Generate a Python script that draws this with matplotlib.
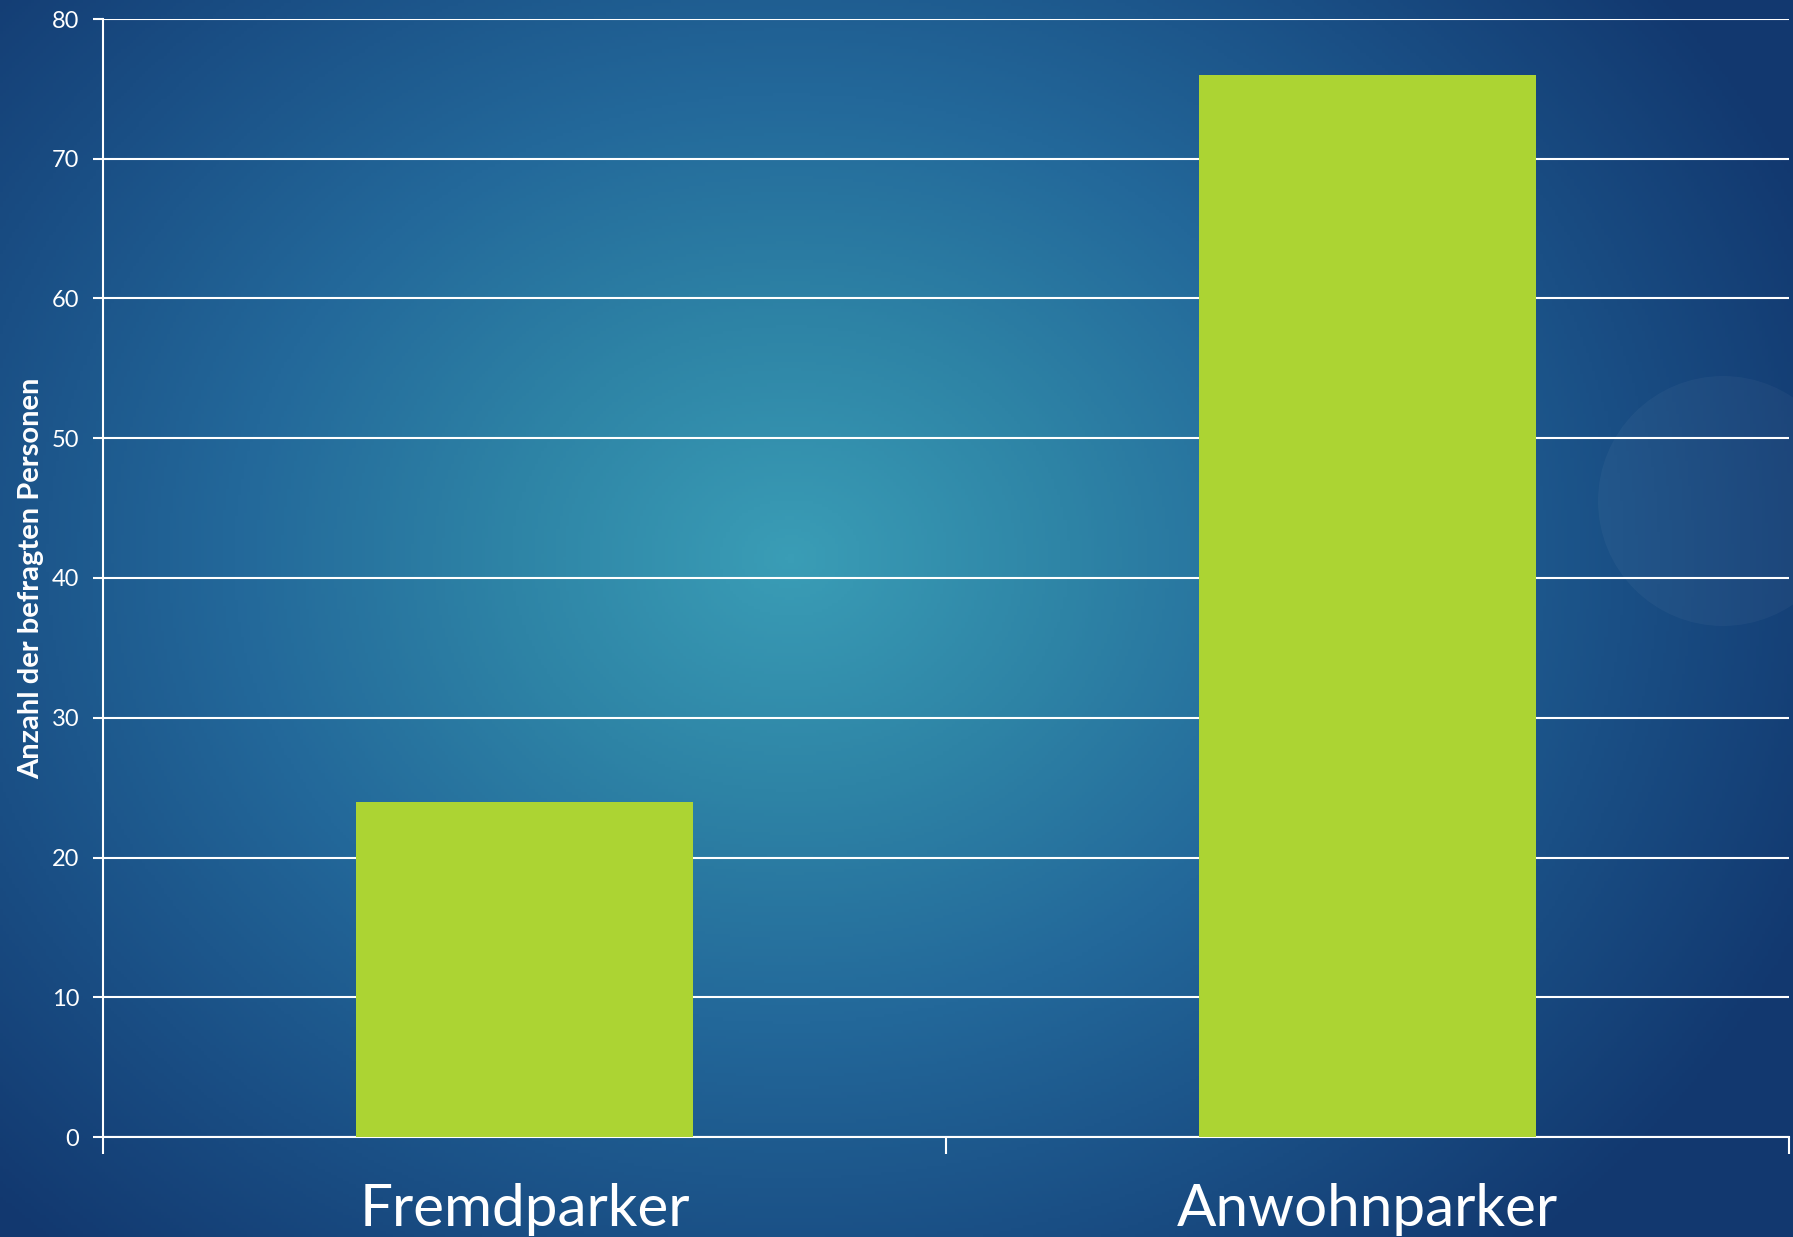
#!/usr/bin/env python3
"""Bar chart: Fremdparker vs. Anwohnparker on a blue gradient slide background."""

import matplotlib

matplotlib.use("Agg")
import matplotlib.pyplot as plt
import numpy as np
from matplotlib.colors import LinearSegmentedColormap
from matplotlib.patches import Ellipse

categories = ["Fremdparker", "Anwohnparker"]
counts = [24, 76]
y_ticks = [0, 10, 20, 30, 40, 50, 60, 70, 80]
y_label = "Anzahl der befragten Personen"

BAR_COLOR = "#acd433"
FONT = ["Lato", "DejaVu Sans"]
W_PX, H_PX = 1793, 1237

plt.rcParams["font.family"] = FONT

fig = plt.figure(figsize=(W_PX / 100, H_PX / 100), dpi=100)

# background: radial gradient, lighter teal in the middle, dark blue at the edges
bg = fig.add_axes([0, 0, 1, 1], zorder=0)
h, w = 400, 580
yy, xx = np.mgrid[0:h, 0:w]
cx, cy = 0.44 * w, 0.45 * h
dist = np.sqrt(((xx - cx) / (0.62 * w)) ** 2 + ((yy - cy) / (0.75 * h)) ** 2)
dist = np.clip(dist, 0, 1)
cmap = LinearSegmentedColormap.from_list(
    "slide", ["#3a9db6", "#2e84a6", "#23689a", "#1a4f85", "#12386f"]
)
bg.imshow(dist, cmap=cmap, aspect="auto", extent=(0, 1, 0, 1), origin="upper")
# faint round decoration at the right edge
r = 125
bg.add_patch(Ellipse((1723 / W_PX, 1 - 501 / H_PX), 2 * r / W_PX, 2 * r / H_PX,
                     transform=bg.transAxes, facecolor="white", alpha=0.035,
                     edgecolor="none"))
bg.set_xlim(0, 1)
bg.set_ylim(0, 1)
bg.axis("off")

ax = fig.add_axes([103 / W_PX, 1 - 1137 / H_PX, 1686 / W_PX, 1118 / H_PX], zorder=1)
ax.patch.set_alpha(0)

x = np.arange(len(categories))
ax.bar(x, counts, width=0.4, color=BAR_COLOR, zorder=3)

ax.set_xlim(-0.5, len(categories) - 0.5)
ax.set_ylim(0, 80)
ax.set_yticks(y_ticks)
ax.yaxis.grid(True, color="white", linewidth=1.5, zorder=1)
ax.set_axisbelow(True)

ax.set_xticks(x)
ax.set_xticklabels(categories, fontsize=42, color="white")
ax.set_xticks(np.arange(len(categories) + 1) - 0.5, minor=True)
ax.tick_params(axis="x", which="major", length=0, pad=33)
ax.tick_params(axis="x", which="minor", length=12, width=1.5, color="white", direction="out")
ax.tick_params(axis="y", labelsize=17, colors="white", length=7, width=1.5, pad=10)

for side in ("top", "right"):
    ax.spines[side].set_visible(False)
for side in ("left", "bottom"):
    ax.spines[side].set_color("white")
    ax.spines[side].set_linewidth(1.5)

ax.set_ylabel(y_label, fontsize=21, fontweight="bold", color="white")
ax.yaxis.set_label_coords(-0.035, 0.50)

fig.savefig("out.png", dpi=100)
plt.close(fig)
